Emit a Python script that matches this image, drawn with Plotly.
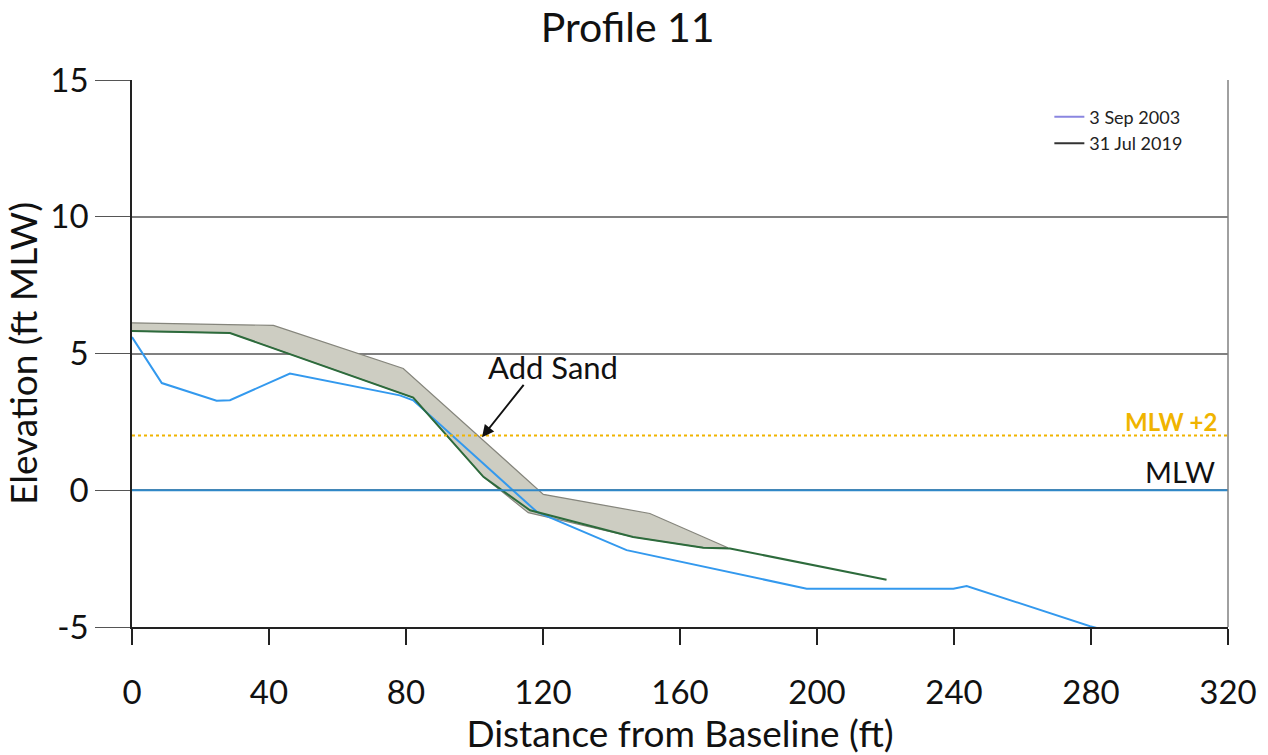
import plotly.graph_objects as go

# ---- data ----
blue_x = [0, 8.7, 24.7, 28.6, 46.1, 78.2, 82.1, 118.2, 144.4, 197, 239.8, 243.7, 279.7, 286]
blue_y = [5.6, 3.92, 3.27, 3.29, 4.27, 3.47, 3.29, -0.79, -2.19, -3.6, -3.6, -3.5, -4.97, -5.18]

green_x = [0, 28.6, 82.1, 102.6, 116.2, 146.3, 166.8, 174.6, 220.3]
green_y = [5.82, 5.75, 3.39, 0.49, -0.73, -1.71, -2.1, -2.13, -3.27]

sand_top_x = [0, 41.3, 79.2, 120.1, 151.2, 174]
sand_top_y = [6.12, 6.03, 4.45, -0.15, -0.85, -2.1]
sand_bot_x = [174, 166.8, 146.3, 115.7, 102.6, 82.1, 28.6, 0]
sand_bot_y = [-2.1, -2.1, -1.71, -0.82, 0.49, 3.39, 5.75, 5.82]

series_names = ["3 Sep 2003", "31 Jul 2019"]
x_ticks = [0, 40, 80, 120, 160, 200, 240, 280, 320]
y_ticks = [-5, 0, 5, 10, 15]
mlw_level = 0
mlw2_level = 2

FONT = "Lato"

fig = go.Figure()

# sand polygon
fig.add_trace(go.Scatter(
    x=sand_top_x + sand_bot_x, y=sand_top_y + sand_bot_y,
    fill="toself", fillcolor="#cdcdc2", mode="lines",
    line=dict(color="#85857c", width=1.2), showlegend=False, hoverinfo="skip"))

fig.add_trace(go.Scatter(x=blue_x, y=blue_y, mode="lines",
                         line=dict(color="#3399ee", width=2), showlegend=False))
fig.add_trace(go.Scatter(x=green_x, y=green_y, mode="lines",
                         line=dict(color="#2d6b3c", width=2), showlegend=False))

# legend entries
fig.add_trace(go.Scatter(x=[None], y=[None], mode="lines", name=series_names[0],
                         line=dict(color="#8a86e0", width=2)))
fig.add_trace(go.Scatter(x=[None], y=[None], mode="lines", name=series_names[1],
                         line=dict(color="#333333", width=2)))

# reference lines
fig.add_shape(type="line", xref="paper", x0=0, x1=1, yref="y", y0=mlw_level, y1=mlw_level,
              line=dict(color="#2f88c8", width=2), layer="above")
fig.add_shape(type="line", xref="paper", x0=0, x1=1, yref="y", y0=mlw2_level, y1=mlw2_level,
              line=dict(color="#f0b400", width=2, dash="dot"), layer="above")
# right border
fig.add_shape(type="line", xref="paper", x0=1, x1=1, yref="paper", y0=0, y1=1,
              line=dict(color="#808080", width=1.5))

fig.add_annotation(x=1, xref="paper", xanchor="right", y=mlw2_level, yanchor="bottom",
                   text="<b>MLW +2</b>", showarrow=False, xshift=-9, yshift=-2,
                   font=dict(family=FONT, size=24, color="#f0b400"))
fig.add_annotation(x=0.99, xref="paper", xanchor="right", y=mlw_level, yanchor="bottom",
                   text="MLW", showarrow=False, yshift=-1,
                   font=dict(family=FONT, size=29, color="#111111"))

fig.add_annotation(x=122.9, y=4.5, text="Add Sand", showarrow=False,
                   font=dict(family=FONT, size=31, color="#111111"))
fig.add_annotation(x=102.2, y=1.94, ax=114.7, ay=3.91, axref="x", ayref="y",
                   text="", showarrow=True, arrowhead=2, arrowsize=1.2,
                   arrowwidth=2, arrowcolor="#111111")

fig.update_layout(
    width=1268, height=755,
    margin=dict(l=132, r=40, t=80, b=128),
    paper_bgcolor="white", plot_bgcolor="white",
    title=dict(text="Profile 11", x=0.495, xanchor="center", y=0.963, yanchor="middle",
               yref="container", font=dict(family=FONT, size=41, color="#111111")),
    font=dict(family=FONT, color="#111111"),
    legend=dict(x=0.837, y=0.966, xanchor="left", yanchor="top",
                bgcolor="rgba(0,0,0,0)", font=dict(family=FONT, size=18, color="#222222")),
    showlegend=True,
)

fig.update_xaxes(range=[0, 320], tickvals=x_ticks, ticktext=[str(v) for v in x_ticks],
                 automargin=False,
                 showgrid=False, zeroline=False, showline=True, linecolor="#222222",
                 linewidth=1.5, ticks="outside", ticklen=16, tickcolor="#222222",
                 tickwidth=1.5, ticklabelstandoff=20,
                 tickfont=dict(family=FONT, size=33, color="#111111"),
                 title=dict(text="Distance from Baseline (ft)", standoff=6,
                            font=dict(family=FONT, size=37, color="#111111")))
fig.update_yaxes(range=[-5, 15], tickvals=y_ticks, ticktext=[str(v) for v in y_ticks],
                 automargin=False,
                 showgrid=True, gridcolor="#808080", gridwidth=1.5, zeroline=False,
                 showline=True, linecolor="#222222", linewidth=1.5,
                 ticks="outside", ticklen=35, tickcolor="#555555", tickwidth=1.2,
                 tickfont=dict(family=FONT, size=33, color="#111111"),
                 title=dict(text="Elevation (ft MLW)", standoff=2,
                            font=dict(family=FONT, size=37, color="#111111")))

fig.write_html("out.html")
